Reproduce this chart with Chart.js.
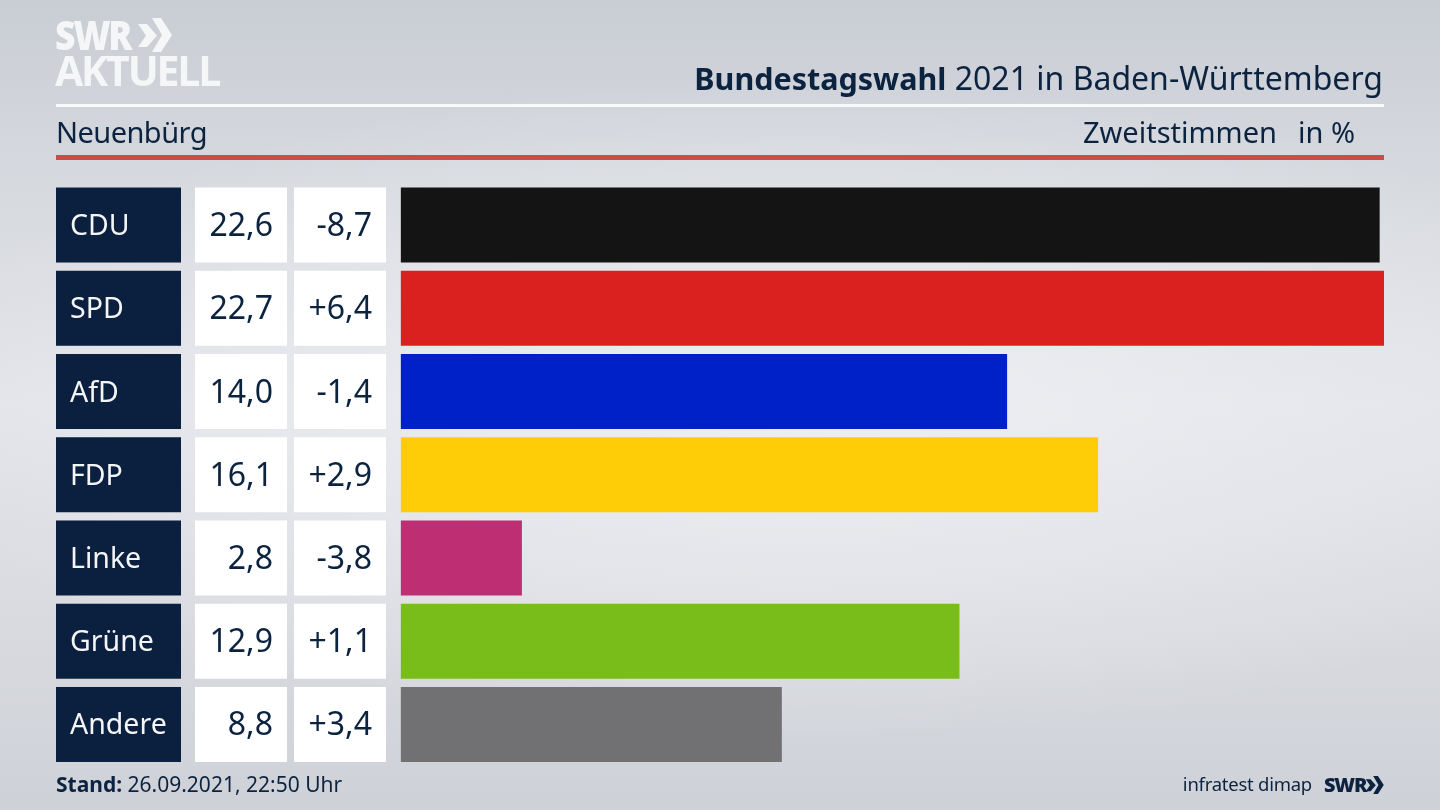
<!DOCTYPE html>
<html lang="de">
<head>
<meta charset="utf-8">
<title>Bundestagswahl 2021 in Baden-Württemberg</title>
<script src="https://cdn.jsdelivr.net/npm/chart.js@4"></script>
<style>
  html, body { margin: 0; padding: 0; }
  body {
    width: 1440px; height: 810px; overflow: hidden; position: relative;
    font-family: "Noto Sans", sans-serif; color: #0c2340;
    background:
      radial-gradient(ellipse 900px 330px at 800px 410px, rgba(238,239,243,.95), rgba(238,239,243,0)),
      linear-gradient(180deg, #c9cdd4 0%, #d6d9de 22%, #e3e4e9 50%, #d8dadf 78%, #ced1d7 100%);
  }
  canvas { position: absolute; left: 0; top: 0; }
  .txt { position: absolute; white-space: nowrap; line-height: 1; }
  .rule { position: absolute; left: 56px; width: 1328px; }
</style>
</head>
<body>
<canvas id="chart" width="1440" height="810"></canvas>

<div class="txt" id="logo1" style="left:55px;top:6px;font:900 41px 'Open Sans',sans-serif;color:#f5f6f7;letter-spacing:-2.5px;transform:scaleX(.87);transform-origin:left top">SWR</div>
<svg style="position:absolute;left:137px;top:18px" width="35" height="34" viewBox="0 0 35 34">
  <path d="M1 6 L10 6 L20 17.5 L10 29 L1 29 L9 17.5 Z M15 0 L24 0 L35 17 L24 34 L15 34 L25 17 Z" fill="#f5f6f7"/>
</svg>
<div class="txt" id="logo2" style="left:55px;top:42px;font:700 41px 'Open Sans',sans-serif;color:#f5f6f7;letter-spacing:-2.2px">AKTUELL</div>

<div class="txt" id="title" style="right:57px;top:62px;font-size:32px"><b style="font-size:30.5px">Bundestagswahl</b> 2021 in Baden-Württemberg</div>
<div class="rule" style="top:104px;height:3px;background:#f8f9fa"></div>
<div class="txt" id="place" style="left:56px;top:117px;font-size:29px;letter-spacing:-.55px">Neuenbürg</div>
<div class="txt" id="mode" style="right:163px;top:117px;font-size:29px">Zweitstimmen</div>
<div class="txt" id="unit" style="right:85px;top:117px;font-size:29px">in %</div>
<div class="rule" style="top:155px;height:5px;background:#c8503c"></div>

<div class="txt" id="stand" style="left:56px;top:774px;font-size:21px"><b>Stand:</b> 26.09.2021, 22:50 Uhr</div>
<div class="txt" id="src" style="right:128px;top:775px;font-size:18.5px;letter-spacing:-.25px">infratest dimap</div>
<div class="txt" id="swr" style="left:1324px;top:771px;font:900 20px 'Open Sans',sans-serif;letter-spacing:-1.2px">SWR</div>
<svg style="position:absolute;left:1365px;top:776px" width="19" height="18" viewBox="0 0 35 34">
  <path d="M1 6 L10 6 L20 17.5 L10 29 L1 29 L9 17.5 Z M15 0 L24 0 L35 17 L24 34 L15 34 L25 17 Z" fill="#0c2340"/>
</svg>

<script>
const parties = ['CDU', 'SPD', 'AfD', 'FDP', 'Linke', 'Grüne', 'Andere'];
const shares = [22.6, 22.7, 14.0, 16.1, 2.8, 12.9, 8.8];
const changes = ['-8,7', '+6,4', '-1,4', '+2,9', '-3,8', '+1,1', '+3,4'];
const partyColors = ['#141414', '#da211f', '#0021c8', '#ffcc08', '#bd2e72', '#78bd1a', '#717173'];

const NAVY = '#0c2340';

// Table to the left of the bars, aligned to the category scale
const tableCells = {
  id: 'tableCells',
  beforeDatasetsDraw(chart) {
    const { ctx, scales: { y } } = chart;
    const meta = chart.getDatasetMeta(0);
    ctx.save();
    ctx.textBaseline = 'alphabetic';
    parties.forEach((name, i) => {
      const cy = y.getPixelForValue(i);
      const h = meta.data[i].height;
      const top = cy - h / 2;
      ctx.fillStyle = '#0b1f3f';
      ctx.fillRect(56, top, 125, h);
      ctx.fillStyle = '#ffffff';
      ctx.fillRect(195, top, 92, h);
      ctx.fillRect(294, top, 92, h);

      ctx.font = '28.5px "Noto Sans", sans-serif';
      ctx.textAlign = 'left';
      ctx.fillStyle = '#f4f5f7';
      ctx.fillText(name, 70, cy + 10);

      ctx.font = '32px "Noto Sans", sans-serif';
      ctx.textAlign = 'right';
      ctx.fillStyle = NAVY;
      ctx.fillText(shares[i].toFixed(1).replace('.', ','), 273, cy + 11);
      ctx.fillText(changes[i], 372, cy + 11);
    });
    ctx.restore();
  }
};

new Chart(document.getElementById('chart'), {
  type: 'bar',
  data: {
    labels: parties,
    datasets: [{
      data: shares,
      backgroundColor: partyColors,
      borderWidth: 0,
      categoryPercentage: 1,
      barPercentage: 0.901
    }]
  },
  options: {
    indexAxis: 'y',
    responsive: false,
    animation: false,
    layout: { padding: { left: 400.6, right: 56, top: 183.4, bottom: 43.9 } },
    plugins: { legend: { display: false }, tooltip: { enabled: false } },
    scales: {
      x: { display: false, min: 0, max: 22.7 },
      y: { display: false }
    }
  },
  plugins: [tableCells]
});
</script>
</body>
</html>
